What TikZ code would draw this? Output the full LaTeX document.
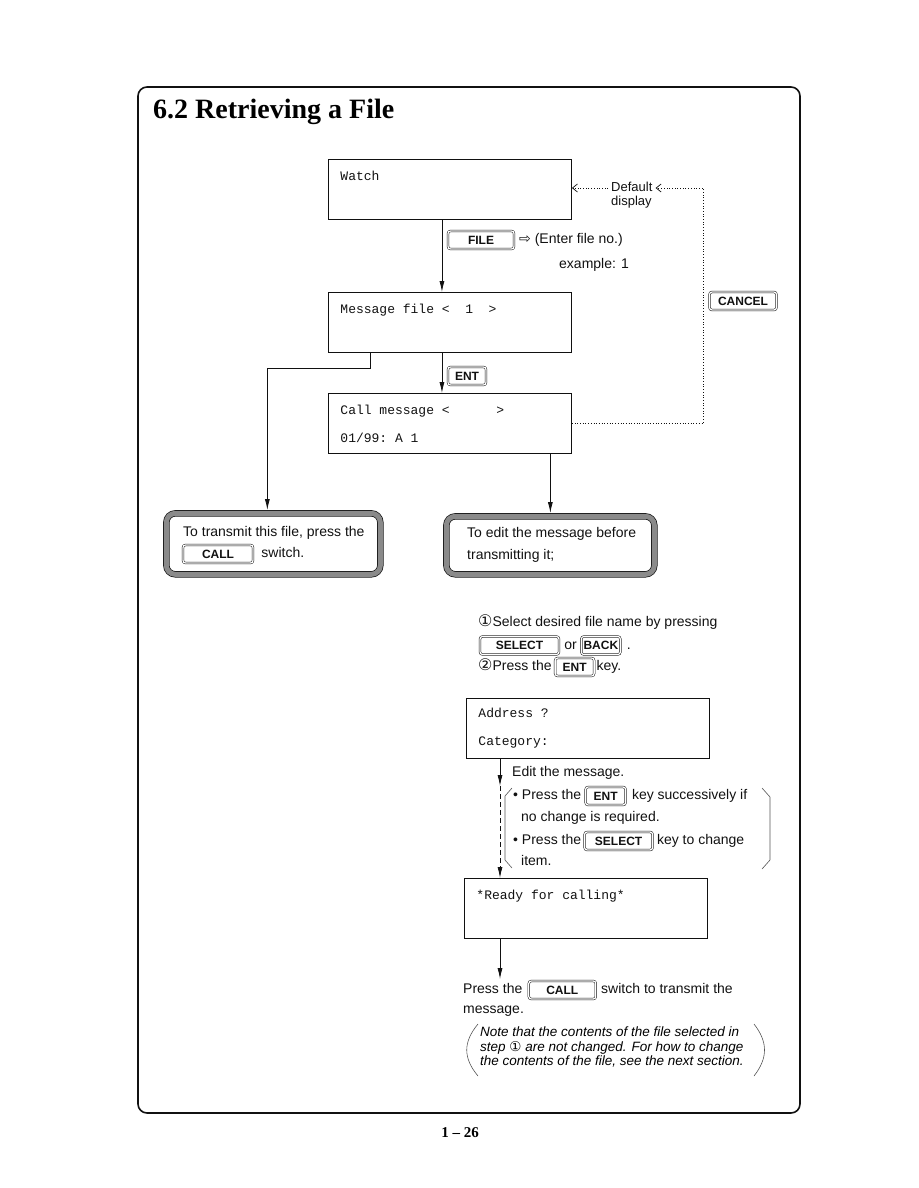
\documentclass[tikz,border=0pt]{standalone}
\usepackage{fontspec}
\setmainfont{Liberation Sans}
\setmonofont{Liberation Mono}
\newfontfamily\titlefont{Liberation Serif}
\newfontfamily\symfont{DejaVu Sans}
\usetikzlibrary{arrows.meta,positioning}
\definecolor{Ink}{HTML}{111111}
\definecolor{FrameGray}{HTML}{8A8A8A}
\definecolor{BracketGray}{HTML}{555555}
\newcommand{\circnum}[1]{{\symfont\fontsize{16}{16}\selectfont #1}}
\newcommand{\lcdsp}{\hspace*{0.6em}}
\tikzset{
  lcdScreen/.style={rectangle,draw=Ink,line width=.9pt,anchor=north west,
    text width=219pt,minimum height=60pt,inner xsep=12pt,inner ysep=0pt,align=left,
    font=\ttfamily\fontsize{13}{28}\selectfont,text=Ink},
  keyCap/.style={rectangle,draw=Ink,line width=.5pt,double,double distance=1.3pt,
    rounded corners=2.5pt,minimum height=18pt,inner sep=0pt,text height=8.5pt,text depth=0pt,
    font=\bfseries\fontsize{12}{13}\selectfont,text=Ink},
  notePanel/.style={rectangle,draw=Ink,line width=.7pt,double=FrameGray,double distance=5pt,
    rounded corners=9pt,anchor=north west,inner sep=0pt},
  bodyText/.style={anchor=west,inner sep=0pt,text height=10.5pt,text depth=3pt,
    font=\fontsize{14}{17}\selectfont,text=Ink},
  smallText/.style={bodyText,font=\fontsize{13}{15}\selectfont},
  flow/.style={-{Latex[length=11pt,width=5pt]},draw=Ink,line width=.8pt},
  cancelFlow/.style={-{Straight Barb[length=5pt,width=8pt]},draw=Ink,line width=.7pt,dotted},
  bracketLine/.style={draw=BracketGray,line width=.6pt}
}
\begin{document}
\begin{tikzpicture}[x=1pt,y=-1pt]
  \useasboundingbox (0,0) rectangle (918,1188);
  \draw[Ink,line width=1.6pt,rounded corners=9pt] (138,87) rectangle (800,1113);
  \node[anchor=base west,inner sep=0pt,font=\titlefont\bfseries\fontsize{28}{32}\selectfont] (title) at (153,118) {6.2 Retrieving a File};
  \node[inner sep=0pt,font=\titlefont\bfseries\fontsize{15}{18}\selectfont] (pageno) at (460,1133) {1 \textendash{} 26};

  \node[lcdScreen] (watch) at (328,159) {Watch\\\mbox{}};
  \node[lcdScreen] (msgfile) at (328,292) {Message\lcdsp file\lcdsp<\lcdsp\lcdsp1\lcdsp\lcdsp>\\\mbox{}};
  \node[lcdScreen] (callmsg) at (328,393) {Call\lcdsp message\lcdsp<\lcdsp\lcdsp\lcdsp\lcdsp\lcdsp\lcdsp>\\01/99:\lcdsp A\lcdsp 1};
  \node[lcdScreen] (address) at (466,698) {Address\lcdsp ?\\Category:};
  \node[lcdScreen] (ready) at (464,878) {*Ready\lcdsp for\lcdsp calling*\\\mbox{}};

  \node[keyCap,minimum width=66pt] (kfile) at (481,240) {FILE};
  \node[bodyText] (enterno) at (519,240) {{\symfont ⇨}~(Enter file no.)};
  \node[bodyText] (example) at (559,265) {example: 1};
  \node[keyCap,minimum width=38pt] (kent) at (467,376) {ENT};
  \node[keyCap,minimum width=67pt] (kcancel) at (743,301) {CANCEL};
  \node[smallText] (dflt) at (611,188) {Default};
  \node[smallText] (disp) at (611,202) {display};

  \node[notePanel,minimum width=214pt,minimum height=61pt] (sendpanel) at (166,513) {};
  \node[notePanel,minimum width=208pt,minimum height=58pt] (editpanel) at (446,516) {};
  \node[bodyText] (sendtxt) at (183,533) {To transmit this file, press the};
  \node[keyCap,minimum width=70pt] (kcall) at (218,554) {CALL};
  \node[bodyText,right=8pt of kcall] (sendsw) {switch.};
  \node[bodyText] (edittxt) at (467,534) {To edit the message before};
  \node[bodyText] (edittxtb) at (467,556) {transmitting it;};

  \draw[flow] ([xshift=-8pt]watch.south) -- ([xshift=-8pt]msgfile.north);
  \draw[flow] ([xshift=-8pt]msgfile.south) -- ([xshift=-8pt]callmsg.north);
  \draw[flow,shorten >=3pt] ([xshift=-80pt]msgfile.south) -- ++(0,15) -| ([xshift=-6pt]sendpanel.north);
  \draw[flow,shorten >=3pt] (callmsg.south -| editpanel.north) -- (editpanel.north);

  \coordinate (cturn) at (703,188);
  \draw[cancelFlow,shorten >=3pt] (callmsg.east) -| (cturn) -- (cturn -| dflt.east);
  \draw[cancelFlow,shorten <=3pt] (dflt.west) -- (dflt.west -| watch.east);

  \node[bodyText] (step1) at (478,623) {\circnum{①}Select desired file name by pressing};
  \node[keyCap,minimum width=79pt] (ksel) at (519.5,645.5) {SELECT};
  \node[bodyText,right=5pt of ksel] (stepor) {or};
  \node[keyCap,minimum width=39pt,right=4pt of stepor] (kback) {BACK};
  \node[bodyText,right=6pt of kback] (stepdot) {.};
  \node[bodyText] (step2) at (478,667) {\circnum{②}Press the};
  \node[keyCap,minimum width=39pt,right=3pt of step2] (kent2) {ENT};
  \node[bodyText,right=2pt of kent2] (stepkey) {key.};

  \coordinate (editturn) at (500,786);
  \draw[flow] (address.south -| editturn) -- (editturn);
  \draw[flow,dash pattern=on 5pt off 3pt] (editturn) -- (editturn |- ready.north);
  \node[bodyText] (edithead) at (512,773) {Edit the message.};
  \node[bodyText] (bul1) at (513,796) {\textbullet~Press the};
  \node[keyCap,minimum width=40pt,right=4pt of bul1] (kent3) {ENT};
  \node[bodyText,right=6pt of kent3] (bul1b) {key successively if};
  \node[bodyText] (bul1c) at (521,818) {no change is required.};
  \node[bodyText] (bul2) at (513,841) {\textbullet~Press the};
  \node[keyCap,minimum width=68pt,right=3pt of bul2] (ksel2) {SELECT};
  \node[bodyText,right=4pt of ksel2] (bul2b) {key to change};
  \node[bodyText] (bul2c) at (521,862) {item.};
  \draw[bracketLine] (512,788) -- (505,796) -- (505,860) -- (512,868);
  \draw[bracketLine] (762,788) -- (770,797) -- (770,860) -- (762,869);

  \node[bodyText] (press) at (463,990) {Press the};
  \draw[flow,shorten >=4pt] (ready.south -| editturn) -- (editturn |- press.north);
  \node[keyCap,minimum width=67pt,right=6pt of press] (kcall2) {CALL};
  \node[bodyText,right=5pt of kcall2] (pressb) {switch to transmit the};
  \node[bodyText] (pressc) at (463,1010) {message.};
  \node[anchor=north west,align=left,inner sep=0pt,font=\itshape\fontsize{13.5}{14.5}\selectfont] (note) at (480,1027)
    {Note that the contents of the file selected in\\step {\symfont\upshape ①} are not changed. For how to change\\the contents of the file, see the next section.};
  \draw[bracketLine] (478,1024) .. controls (463,1042) and (463,1058) .. (478,1076);
  \draw[bracketLine] (754,1024) .. controls (768,1042) and (768,1058) .. (754,1076);
\end{tikzpicture}
\end{document}
